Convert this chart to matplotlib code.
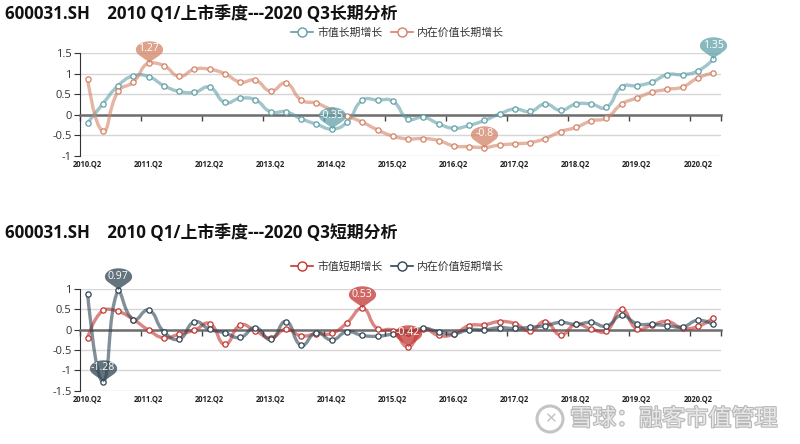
import numpy as np
import matplotlib
matplotlib.use("Agg")
import matplotlib.pyplot as plt
import matplotlib.patheffects as pe
from matplotlib.path import Path
from matplotlib.patches import PathPatch, Ellipse
from matplotlib.lines import Line2D

plt.rcParams["font.family"] = ["Open Sans", "Noto Sans CJK SC", "DejaVu Sans"]

# 2010.Q2 ... 2020.Q3
quarters = [f"{y}.Q{q}" for y in range(2010, 2021) for q in range(1, 5)][1:-1]

# 长期分析
long_mv = [-0.20, 0.27, 0.71, 0.95, 0.93, 0.71, 0.57, 0.55, 0.67, 0.30,
           0.40, 0.36, 0.07, 0.07, -0.10, -0.23, -0.35, -0.18, 0.35, 0.36,
           0.33, -0.10, -0.06, -0.22, -0.33, -0.26, -0.14, 0.02, 0.14, 0.08,
           0.26, 0.11, 0.26, 0.26, 0.18, 0.68, 0.71, 0.80, 0.98, 0.98,
           1.07, 1.35]
long_iv = [0.88, -0.40, 0.57, 0.80, 1.27, 1.20, 0.94, 1.11, 1.11, 1.00,
           0.80, 0.84, 0.58, 0.77, 0.36, 0.28, 0.12, -0.03, -0.18, -0.37,
           -0.52, -0.59, -0.58, -0.63, -0.76, -0.78, -0.80, -0.74, -0.71, -0.68,
           -0.58, -0.41, -0.31, -0.15, -0.08, 0.26, 0.41, 0.55, 0.62, 0.68,
           0.90, 1.02]

# 短期分析
short_mv = [-0.20, 0.48, 0.45, 0.25, -0.01, -0.20, -0.11, -0.01, 0.15, -0.36,
            0.11, -0.03, -0.20, 0.01, -0.15, -0.10, -0.09, 0.17, 0.53, 0.02,
            -0.02, -0.42, 0.02, -0.14, -0.11, 0.10, 0.12, 0.20, 0.15, -0.03,
            0.20, -0.13, 0.13, 0.02, -0.03, 0.50, 0.02, 0.12, 0.20, 0.04,
            0.08, 0.29]
short_iv = [0.89, -1.28, 0.97, 0.25, 0.48, -0.05, -0.23, 0.19, 0.01, -0.08,
            -0.19, 0.05, -0.24, 0.20, -0.38, -0.07, -0.25, -0.05, -0.14, -0.16,
            -0.11, -0.08, 0.03, -0.05, -0.10, 0.00, 0.00, 0.05, 0.03, 0.06,
            0.10, 0.18, 0.13, 0.18, 0.09, 0.35, 0.15, 0.13, 0.10, 0.07,
            0.23, 0.13]

title_long = "600031.SH    2010 Q1/上市季度---2020 Q3长期分析"
title_short = "600031.SH    2010 Q1/上市季度---2020 Q3短期分析"


def smooth_line(ax, xs, ys, smooth=0.5):
    # echarts 风格的平滑曲线, 在像素坐标里算控制点
    pts = ax.transData.transform(np.column_stack([xs, ys]))
    lo, hi = pts.min(axis=0), pts.max(axis=0)
    n = len(pts)
    verts = [pts[0]]
    codes = [Path.MOVETO]
    cp0 = pts[0].copy()
    for i in range(1, n):
        p = pts[i]
        if i == n - 1:
            cp1 = p.copy()
            v, ratio = np.zeros(2), 0.5
        else:
            prev, nxt = pts[i - 1], pts[i + 1]
            v = nxt - prev
            d0 = np.hypot(*(p - prev))
            d1 = np.hypot(*(p - nxt))
            ratio = d1 / (d0 + d1)
            cp1 = p - v * smooth * (1 - ratio)
        verts += [np.clip(cp0, lo, hi), np.clip(cp1, lo, hi), p]
        codes += [Path.CURVE4] * 3
        cp0 = p + v * smooth * ratio
    verts = ax.transData.inverted().transform(np.array(verts))
    return Path(verts, codes)


def pin_path():
    c, rx, ry = 13.8, 13.6, 8.4
    a = np.radians(np.linspace(-35, 215, 40))
    arc = np.column_stack([rx * np.cos(a), c + ry * np.sin(a)])
    r, l = arc[0], arc[-1]
    verts = list(arc) + [l * 0.55, (-0.8, 2.5), (0, 0),
                         (0.8, 2.5), r * 0.55, r]
    codes = [Path.MOVETO] + [Path.LINETO] * (len(arc) - 1) + [Path.CURVE4] * 6
    return Path(verts, codes), c, c + ry


PIN, PIN_C, PIN_MAX = pin_path()


def draw_series(ax, ys, color, alpha=0.6):
    xs = np.arange(len(ys))
    ax.add_patch(PathPatch(smooth_line(ax, xs, ys), fc="none", ec=color,
                           lw=2.4, alpha=alpha, zorder=3, capstyle="round"))
    ax.plot(xs, ys, "o", ms=3.8, mfc="white", mec=color, mew=0.9, zorder=4,
            clip_on=False)
    for idx in (int(np.argmax(ys)), int(np.argmin(ys))):
        ax.plot([idx], [ys[idx]], marker=PIN, ms=2 * PIN_MAX * 0.72,
                color=color, alpha=0.75, mew=0, ls="none", zorder=6,
                clip_on=False)
        ax.annotate(f"{ys[idx]:g}", (idx, ys[idx]), xytext=(0, PIN_C * 0.72),
                    textcoords="offset points", ha="center", va="center",
                    color="white", fontsize=7.6, zorder=7)


def setup(ax, ylo, yhi, yt):
    ax.set_xlim(-0.5, len(quarters) - 0.5)
    ax.set_ylim(ylo, yhi)
    ax.set_yticks(yt)
    ax.set_yticklabels([f"{t:g}" for t in yt])
    ax.yaxis.grid(True, color="#d6d6d6", lw=1)
    ax.set_axisbelow(True)
    for s in ["top", "right"]:
        ax.spines[s].set_visible(False)
    ax.spines["left"].set_color("#333333")
    ax.spines["bottom"].set_position(("data", 0))
    ax.spines["bottom"].set_color("#6e6e6e")
    ax.spines["bottom"].set_linewidth(1.8)
    ax.set_xticks([-0.5 + 4 * k for k in range(11)] + [len(quarters) - 0.5])
    ax.tick_params(axis="x", length=4, width=1, color="#444444",
                   labelbottom=False)
    ax.tick_params(axis="y", length=4, color="#333333", labelsize=8,
                   labelcolor="#333333", pad=2)
    sec = ax.secondary_xaxis(0)
    idx = list(range(0, len(quarters), 4))
    sec.set_xticks(idx, [quarters[i] for i in idx], fontweight="bold")
    sec.tick_params(length=0, labelsize=5.5, pad=3, labelcolor="#222222")
    sec.spines["bottom"].set_visible(False)


fig = plt.figure(figsize=(8, 4.44), dpi=100)

ax1 = fig.add_axes([0.1, 0.6493, 0.801, 0.2306])
setup(ax1, -1, 1.5, [-1, -0.5, 0, 0.5, 1, 1.5])
c_mv, c_iv = "#61a0a8", "#d48265"
draw_series(ax1, long_mv, c_mv)
draw_series(ax1, long_iv, c_iv)

ax2 = fig.add_axes([0.1, 0.12, 0.801, 0.229])
setup(ax2, -1.5, 1, [-1.5, -1, -0.5, 0, 0.5, 1])
c_smv, c_siv = "#c23531", "#2f4554"
draw_series(ax2, short_mv, c_smv)
draw_series(ax2, short_iv, c_siv)

fig.text(0.006, 0.968, title_long, fontsize=12.2, fontweight="bold",
         va="center", ha="left", color="#111111")
fig.text(0.006, 0.475, title_short, fontsize=12.2, fontweight="bold",
         va="center", ha="left", color="#111111")


def legend(y, items):
    handles = [Line2D([], [], color=c, lw=1.2, marker="o", ms=6.5, mfc="white",
                      mec=c, mew=1) for c, _ in items]
    fig.legend(handles, [t for _, t in items], loc="center",
               bbox_to_anchor=(0.497, y), ncol=2, frameon=False, fontsize=7.8,
               handlelength=2.0, handletextpad=0.4, columnspacing=0.8,
               labelcolor="#333333")


legend(0.924, [(c_mv, "市值长期增长"), (c_iv, "内在价值长期增长")])
legend(0.398, [(c_smv, "市值短期增长"), (c_siv, "内在价值短期增长")])

# 水印
wm = [pe.withStroke(linewidth=1.6, foreground="#b8b8b8")]
fig.patches.append(Ellipse((550 / 800, 1 - 419 / 444), 26 / 800, 26 / 444,
                           transform=fig.transFigure, fc="none", ec="#c4c4c4",
                           lw=2.2))
fig.text(550 / 800, 1 - 419 / 444, "✕", fontsize=11, color="#c4c4c4",
         ha="center", va="center", family=["DejaVu Sans"])
fig.text(570 / 800, 1 - 419 / 444, "雪球：融客市值管理", fontsize=16.6,
         color="#e8e8e8", ha="left", va="center", path_effects=wm,
         family=["Noto Sans CJK SC", "DejaVu Sans"])

fig.savefig("out.png", dpi=100)
